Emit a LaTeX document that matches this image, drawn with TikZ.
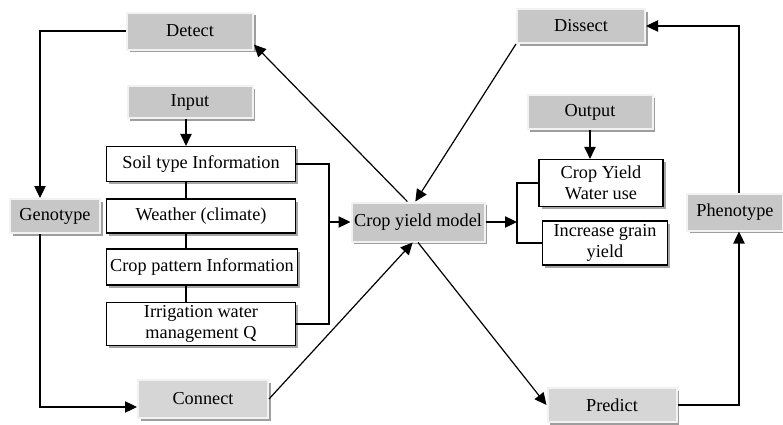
\documentclass[tikz,border=0pt]{standalone}
\usepackage{fontspec}
\setmainfont{Liberation Serif}
\usetikzlibrary{positioning, shadows, arrows.meta}

\begin{document}
\begin{tikzpicture}[x=0.75pt, y=-0.75pt,
  font=\fontsize{13.7}{16}\selectfont,
  >={Triangle[length=9pt, width=8.5pt]}, line width=0.9pt,
  greybox/.style={fill=black!22, draw=black!5, line width=1.5pt, inner sep=0, align=center,
    drop shadow={shadow xshift=2pt, shadow yshift=-2pt, fill=black!38, opacity=1}},
  paleblock/.style={greybox, fill=black!16},
  whitebox/.style={fill=white, draw=black, line width=0.9pt, inner sep=0, align=center,
    drop shadow={shadow xshift=2pt, shadow yshift=-2pt, fill=black!35, opacity=1}}]

  \useasboundingbox (0,0) rectangle (783,425);

  \node[greybox, minimum width=94.5pt, minimum height=27.75pt] (detect) at (190,31) {Detect};
  \node[greybox, minimum width=93.75pt, minimum height=24pt] (input) at (190,102) {Input};
  \node[whitebox, minimum width=141.75pt, minimum height=26.25pt] (soil) at (201,164) {Soil type Information};
  \node[whitebox, minimum width=141.75pt, minimum height=25.5pt] (weather) at (201,216) {Weather (climate)};
  \node[whitebox, minimum width=143.25pt, minimum height=27pt] (pattern) at (202,267) {Crop pattern Information};
  \node[whitebox, minimum width=141.75pt, minimum height=32.25pt] (irrig) at (201,324) {Irrigation water\\management Q};
  \node[greybox, minimum width=67.5pt, minimum height=25.5pt] (genotype) at (55,216) {Genotype};
  \node[paleblock, minimum width=97.5pt, minimum height=28.5pt] (connect) at (203,399) {Connect};

  \node[greybox, minimum width=99.75pt, minimum height=29.25pt] (model) at (418,222) {Crop yield model};

  \node[greybox, minimum width=96pt, minimum height=25.5pt] (dissect) at (581,26) {Dissect};
  \node[greybox, minimum width=93.75pt, minimum height=25.5pt] (output) at (590,112) {Output};
  \node[whitebox, minimum width=93pt, minimum height=35.25pt] (cropyield) at (601,183) {Crop Yield\\Water use};
  \node[whitebox, minimum width=93.75pt, minimum height=33pt] (increase) at (605,243) {Increase grain\\yield};
  \node[greybox, minimum width=72pt, minimum height=27.75pt] (phenotype) at (735,212) {Phenotype};
  \node[paleblock, minimum width=96.75pt, minimum height=25.5pt] (predict) at (612,405) {Predict};

  \coordinate (inbus) at (329,222);
  \coordinate (outbus) at (517,222);

  \draw[->] (detect.west) -| ([xshift=-11.25pt]genotype.north);
  \draw[->] ([xshift=-11.25pt]genotype.south) |- ([yshift=-6pt]connect.west);
  \draw[->] ([xshift=-3pt]input.south) -- ([xshift=-3pt]input.south |- soil.north);
  \draw ([xshift=-3pt]input.south |- soil.south) -- ([xshift=-3pt]input.south |- weather.north);
  \draw ([xshift=-3pt]input.south |- weather.south) -- ([xshift=-3pt]input.south |- pattern.north);
  \draw ([xshift=-3pt]input.south |- pattern.south) -- ([xshift=-3pt]input.south |- irrig.north);
  \draw (soil.east) -| (inbus) |- (irrig.east);
  \draw[->] (inbus) -- (model.west);

  \draw[->] (model.east) -- (outbus);
  \draw (cropyield.west) -| (outbus) |- (increase.west);
  \draw[->] (output.south) -- (output.south |- cropyield.north);

  \draw[->] ([xshift=-8pt]model.north) -- (detect.-12);
  \draw[->] (dissect.south west) -- ([xshift=-2pt]model.north);
  \draw[->] (connect.east) -- ([xshift=-4pt]model.south);
  \draw[->] (model.south) -- (predict.west);
  \draw[->] (predict.east) -| ([xshift=3pt]phenotype.south);
  \draw[->] ([xshift=3pt]phenotype.north) |- (dissect.east);

\end{tikzpicture}
\end{document}
